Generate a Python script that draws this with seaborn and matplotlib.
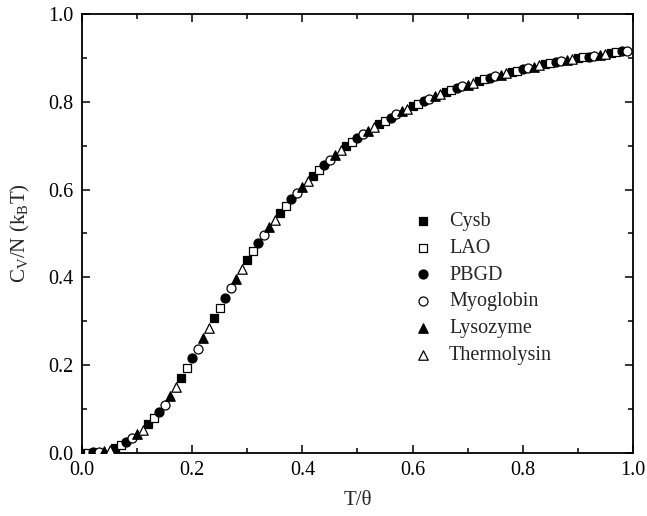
import pandas as pd
import matplotlib
matplotlib.use("Agg")
import matplotlib.pyplot as plt
from matplotlib.ticker import MultipleLocator
import seaborn as sns

# T/theta positions and C_V/N(k_B T) values, one list pair per protein
cysb_x = [0.00, 0.06, 0.12, 0.18, 0.24, 0.30, 0.36, 0.42, 0.48, 0.54, 0.60, 0.66, 0.72, 0.78, 0.84, 0.90, 0.96]
cysb_y = [0.000, 0.012, 0.066, 0.172, 0.308, 0.439, 0.547, 0.632, 0.699, 0.750, 0.790, 0.822, 0.847, 0.868, 0.885, 0.899, 0.911]

lao_x = [0.01, 0.07, 0.13, 0.19, 0.25, 0.31, 0.37, 0.43, 0.49, 0.55, 0.61, 0.67, 0.73, 0.79, 0.85, 0.91, 0.97]
lao_y = [0.001, 0.018, 0.079, 0.194, 0.331, 0.459, 0.563, 0.645, 0.708, 0.757, 0.796, 0.826, 0.851, 0.871, 0.888, 0.901, 0.913]

pbgd_x = [0.02, 0.08, 0.14, 0.20, 0.26, 0.32, 0.38, 0.44, 0.50, 0.56, 0.62, 0.68, 0.74, 0.80, 0.86, 0.92, 0.98]
pbgd_y = [0.002, 0.025, 0.094, 0.216, 0.354, 0.478, 0.578, 0.657, 0.717, 0.764, 0.801, 0.831, 0.855, 0.874, 0.890, 0.903, 0.915]

myo_x = [0.03, 0.09, 0.15, 0.21, 0.27, 0.33, 0.39, 0.45, 0.51, 0.57, 0.63, 0.69, 0.75, 0.81, 0.87, 0.93, 0.99]
myo_y = [0.003, 0.034, 0.110, 0.238, 0.375, 0.496, 0.593, 0.668, 0.726, 0.771, 0.807, 0.835, 0.858, 0.877, 0.893, 0.905, 0.916]

lyso_x = [0.04, 0.10, 0.16, 0.22, 0.28, 0.34, 0.40, 0.46, 0.52, 0.58, 0.64, 0.70, 0.76, 0.82, 0.88, 0.94]
lyso_y = [0.005, 0.044, 0.130, 0.262, 0.397, 0.514, 0.607, 0.679, 0.734, 0.778, 0.812, 0.839, 0.862, 0.880, 0.895, 0.907]

thermo_x = [0.05, 0.11, 0.17, 0.23, 0.29, 0.35, 0.41, 0.47, 0.53, 0.59, 0.65, 0.71, 0.77, 0.83, 0.89, 0.95]
thermo_y = [0.008, 0.053, 0.150, 0.285, 0.419, 0.531, 0.620, 0.689, 0.742, 0.784, 0.817, 0.843, 0.865, 0.883, 0.897, 0.909]

series = [
    ("Cysb", cysb_x, cysb_y, "s", "black", 30),
    ("LAO", lao_x, lao_y, "s", "white", 30),
    ("PBGD", pbgd_x, pbgd_y, "o", "black", 42),
    ("Myoglobin", myo_x, myo_y, "o", "white", 42),
    ("Lysozyme", lyso_x, lyso_y, "^", "black", 46),
    ("Thermolysin", thermo_x, thermo_y, "^", "white", 46),
]

sns.set_theme(style="ticks")
plt.rcParams['font.family'] = ['Liberation Serif', 'DejaVu Serif']
plt.rcParams['mathtext.default'] = 'regular'

fig = plt.figure(figsize=(6.47, 5.16), dpi=100)
ax = fig.add_axes([0.127, 0.122, 0.851, 0.851])

for name, xs, ys, mk, fc, sz in series:
    df = pd.DataFrame({"x": xs, "y": ys})
    sns.scatterplot(data=df, x="x", y="y", marker=mk, color=fc, edgecolor="black",
                    linewidth=0.9, s=sz, label=name, ax=ax, zorder=3)

ax.set_xlim(0, 1.0)
ax.set_ylim(0, 1.0)
ax.xaxis.set_major_locator(MultipleLocator(0.2))
ax.xaxis.set_minor_locator(MultipleLocator(0.1))
ax.yaxis.set_major_locator(MultipleLocator(0.2))
ax.yaxis.set_minor_locator(MultipleLocator(0.1))
ax.xaxis.set_major_formatter(matplotlib.ticker.FormatStrFormatter('%.1f'))
ax.yaxis.set_major_formatter(matplotlib.ticker.FormatStrFormatter('%.1f'))
ax.tick_params(which='both', direction='in', top=True, right=True, colors='black',
               labelsize=14.5, width=1.1)
ax.tick_params(which='major', length=6, pad=6)
ax.tick_params(which='minor', length=3.5)
for sp in ax.spines.values():
    sp.set_linewidth(1.3)
    sp.set_color('black')

ax.set_xlabel("T/θ", fontsize=15, labelpad=8)
ax.set_ylabel("C$_V$/N (k$_B$T)", fontsize=15, labelpad=12)

ax.legend(frameon=False, loc='center left', bbox_to_anchor=(0.575, 0.375),
          fontsize=14.5, handlelength=1.0, handletextpad=0.8, labelspacing=0.38,
          borderpad=0.2, markerscale=1.0)

plt.savefig("out.png", dpi=100)
